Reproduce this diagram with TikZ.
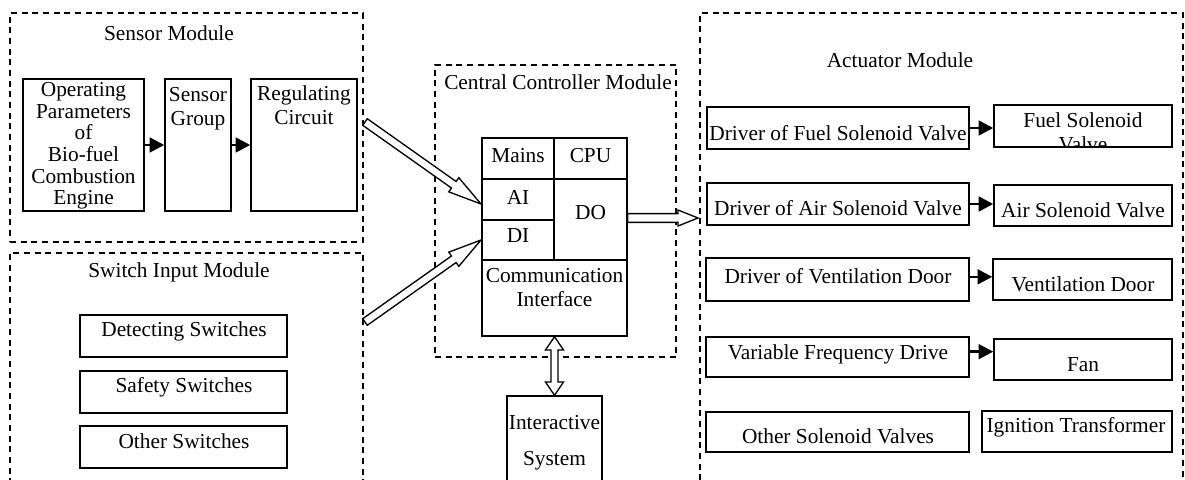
\documentclass[tikz,border=0pt]{standalone}
\usepackage{fontspec}
\setmainfont{Liberation Serif}
\usetikzlibrary{arrows.meta,calc,fit}

\tikzset{
  box/.style={draw, line width=1.1pt, inner sep=0pt},
  modbox/.style={draw, line width=1pt, dash pattern=on 4.5pt off 3.5pt, inner sep=0pt},
  txt/.style={font=\fontsize{16}{18}\selectfont, align=center, inner sep=0pt},
  blackarrow/.style={line width=2pt, -{Triangle[length=11pt,width=11pt]}},
  hollow/.style={draw, line width=1pt, fill=white, line join=miter},
}

% #1 tail, #2 tip, #3 shaft half width, #4 head half width, #5 head length
\newcommand{\hollowarrow}[5]{%
  \coordinate (hb) at ($(#2)!#5!(#1)$);
  \draw[hollow] ($(#1)!#3!90:(#2)$) -- ($(hb)!#3!90:(#2)$) -- ($(hb)!#4!90:(#2)$) -- (#2)
    -- ($(hb)!#4!-90:(#2)$) -- ($(hb)!#3!-90:(#2)$) -- ($(#1)!#3!-90:(#2)$) -- cycle;
}
\newcommand{\hollowdarrow}[5]{%
  \coordinate (ha) at ($(#1)!#5!(#2)$);
  \coordinate (hb) at ($(#2)!#5!(#1)$);
  \draw[hollow] (#1) -- ($(ha)!#4!90:(#2)$) -- ($(ha)!#3!90:(#2)$) -- ($(hb)!#3!90:(#2)$)
    -- ($(hb)!#4!90:(#2)$) -- (#2) -- ($(hb)!#4!-90:(#2)$) -- ($(hb)!#3!-90:(#2)$)
    -- ($(ha)!#3!-90:(#2)$) -- ($(ha)!#4!-90:(#2)$) -- cycle;
}

\begin{document}
\begin{tikzpicture}[x=0.75pt,y=0.75pt,yscale=-1,xscale=1]
\useasboundingbox (0,0) rectangle (1185,479);
\clip (0,0) rectangle (1185,479);

% Module frames
\node[modbox, fit={(10,13) (363,242)}] (sensor) {};
\node[modbox, fit={(10,253) (363,495)}] (switch) {};
\node[modbox, fit={(435,65) (676,357)}] (central) {};
\node[modbox, fit={(700,13) (1183,495)}] (act) {};

% Text Node
\node[txt] (sensortitle) at (169,33) {Sensor Module};
\node[txt] (switchtitle) at (179,272) {Switch Input Module};
\node[txt] (centraltitle) at (558,82) {Central Controller Module};
\node[txt] (acttitle) at (900,60) {Actuator Module};

% Sensor Module
\node[box, fit={(23,79) (144,211)}] (engine) {};
\node[box, fit={(165,79) (231,211)}] (sgroup) {};
\node[box, fit={(251,79) (357,211)}] (reg) {};
\node[txt, font=\fontsize{16}{16.2}\selectfont] (enginetext) at (83.5,146)
  {Operating\\Parameters\\of\\Bio-fuel\\Combustion\\Engine};
\node[txt] (sgrouptext) at (198,109) {Sensor\\Group};
\node[txt] (regtext) at (304,105) {Regulating\\Circuit};
\draw[blackarrow] (engine.east) -- (sgroup.west);
\draw[blackarrow] (sgroup.east) -- (reg.west);

% Switch Input Module
\node[box, fit={(80,315) (287,357)}] (detect) {};
\node[box, fit={(80,371) (287,413)}] (safety) {};
\node[box, fit={(80,426) (287,468)}] (other) {};
\node[txt] (detecttext) at (184,331) {Detecting Switches};
\node[txt] (safetytext) at (184,387) {Safety Switches};
\node[txt] (othertext) at (184,441) {Other Switches};

% Central Controller Module
\node[box, fit={(482,138) (554,179)}] (mains) {};
\node[box, fit={(554,138) (627,179)}] (cpu) {};
\node[box, fit={(482,179) (554,220)}] (ai) {};
\node[box, fit={(482,220) (554,260)}] (di) {};
\node[box, fit={(554,179) (627,260)}] (do) {};
\node[box, fit={(482,260) (627,336)}] (comm) {};
\node[txt] (mainstext) at (518,156) {Mains};
\node[txt] (cputext) at (590.5,156) {CPU};
\node[txt] (aitext) at (518,197) {AI};
\node[txt] (ditext) at (518,236) {DI};
\node[txt] (dotext) at (590.5,213) {DO};
\node[txt] (commtext) at (554.5,288) {Communication\\Interface};

% Interactive System
\node[box, fit={(507,396) (602,500)}] (inter) {};
\node[txt, font=\fontsize{16}{27}\selectfont] (intertext) at (554.5,443) {Interactive\\System};

% Actuator Module
\node[box, fit={(707,107) (969,149)}] (drvfuel) {};
\node[box, fit={(707,183) (969,225)}] (drvair) {};
\node[box, fit={(706,258) (969,301)}] (drvvent) {};
\node[box, fit={(706,337) (969,377)}] (vfd) {};
\node[box, fit={(706,412) (969,452)}] (osv) {};
\node[box, fit={(994,105) (1172,147)}] (fsv) {};
\node[box, fit={(994,185) (1172,226)}] (asv) {};
\node[box, fit={(993,259) (1172,300)}] (vent) {};
\node[box, fit={(994,339) (1172,380)}] (fan) {};
\node[box, fit={(982,411) (1172,452)}] (ign) {};

\node[txt] (drvfueltext) at (838,133) {Driver of Fuel Solenoid Valve};
\node[txt] (drvairtext) at (838,208.5) {Driver of Air Solenoid Valve};
\node[txt] (drvventtext) at (838,276) {Driver of Ventilation Door};
\node[txt] (vfdtext) at (838,354) {Variable Frequency Drive};
\node[txt] (osvtext) at (838,436) {Other Solenoid Valves};
\begin{scope}
  \clip (fsv.south west) rectangle (fsv.north east);
  \node[txt] (fsvtext) at (1083,132) {Fuel Solenoid\\Valve};
\end{scope}
\node[txt] (asvtext) at (1083,210.5) {Air Solenoid Valve};
\node[txt] (venttext) at (1083,284) {Ventilation Door};
\node[txt] (fantext) at (1083,365) {Fan};
\node[txt] (igntext) at (1076,427) {Ignition Transformer};

\draw[blackarrow] (drvfuel.east) -- (drvfuel.east -| fsv.west);
\draw[blackarrow] (drvair.east) -- (drvair.east -| asv.west);
\draw[blackarrow] ([yshift=-2pt]drvvent.east) -- ([yshift=-2pt]drvvent.east -| vent.west);
\draw[blackarrow] ([yshift=-4pt]vfd.east) -- ([yshift=-4pt]vfd.east -| fan.west);

% Hollow connectors
\coordinate (regout) at (365,122);
\coordinate (aiin) at (481,204);
\coordinate (swout) at (365,322);
\coordinate (diin) at (481,240);
\coordinate (actin) at (698,218);
\hollowarrow{regout}{aiin}{3pt}{6.5pt}{25pt}
\hollowarrow{swout}{diin}{3pt}{6.5pt}{25pt}
\hollowarrow{do.east |- actin}{actin}{3.3pt}{6pt}{15pt}
\hollowdarrow{comm.south}{inter.north}{2.6pt}{6.8pt}{10pt}

\end{tikzpicture}
\end{document}
